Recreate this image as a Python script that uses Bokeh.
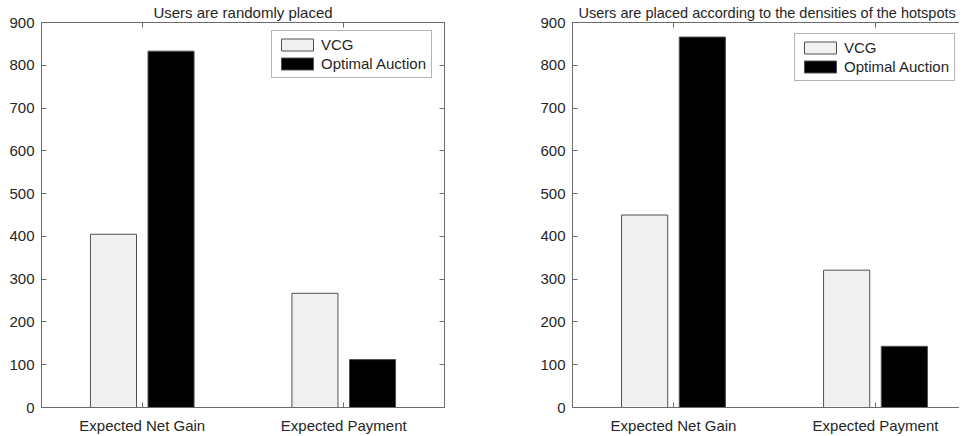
from bokeh.plotting import figure
from bokeh.models import (ColumnDataSource, LinearAxis, FixedTicker, Range1d,
                          Legend, LegendItem, Title)
from bokeh.layouts import row
from bokeh.embed import file_html
from bokeh.resources import INLINE

categories = ["Expected Net Gain", "Expected Payment"]
series_names = ["VCG", "Optimal Auction"]
titles = ["Users are randomly placed",
          "Users are placed according to the densities of the hotspots"]
vcg_random = [405, 267]
opt_random = [833, 112]
vcg_hotspot = [450, 321]
opt_hotspot = [866, 143]
y_ticks = [0, 100, 200, 300, 400, 500, 600, 700, 800, 900]

FONT = "Liberation Sans"
FS = "15px"
TXT = "#262626"
LINE = "#6a6a6a"
colors = ["#f0f0f0", "#000000"]
offsets = [-1 / 7, 1 / 7]
bar_w = 0.8 / 3.5
FH = 385


def make(title, vcg, opt, left_border, frame_w, x_end, show_right, legend_loc,
         title_fs, title_align, title_offset):
    p = figure(output_backend="svg", toolbar_location=None,
               frame_width=frame_w, frame_height=FH,
               x_range=Range1d(0.5, x_end), y_range=Range1d(0, 900),
               min_border_left=left_border, min_border_right=0,
               min_border_top=22, min_border_bottom=27,
               x_axis_location=None, y_axis_location=None)
    p.title = Title(text=title, text_font=FONT, text_font_size=title_fs,
                    text_color=TXT, text_font_style="normal", align=title_align,
                    standoff=3, offset=title_offset)
    p.grid.visible = False
    p.outline_line_color = None
    p.background_fill_color = "white"
    p.border_fill_color = "white"

    xs = list(range(1, len(categories) + 1))
    items = []
    for k, vals in enumerate([vcg, opt]):
        src = ColumnDataSource(dict(x=[x + offsets[k] for x in xs], top=vals))
        r = p.vbar(x="x", top="top", bottom=0, width=bar_w, source=src,
                   fill_color=colors[k], line_color="#505050", line_width=1)
        items.append(LegendItem(label=series_names[k], renderers=[r]))

    def style(ax, labels=True):
        ax.axis_line_color = LINE
        ax.major_tick_line_color = LINE
        ax.minor_tick_line_color = None
        ax.major_tick_in = 5
        ax.major_tick_out = 0
        ax.major_label_text_font = FONT
        ax.major_label_text_font_size = FS if labels else "1px"
        ax.major_label_text_color = TXT if labels else None
        ax.major_label_standoff = 7 if labels else 0

    yl = LinearAxis(ticker=FixedTicker(ticks=y_ticks))
    style(yl)
    p.add_layout(yl, "left")
    xb = LinearAxis(ticker=FixedTicker(ticks=xs),
                    major_label_overrides={x: c for x, c in zip(xs, categories)})
    style(xb)
    xb.major_label_standoff = 9
    p.add_layout(xb, "below")
    xt = LinearAxis(ticker=FixedTicker(ticks=xs))
    style(xt, labels=False)
    p.add_layout(xt, "above")
    if show_right:
        yr = LinearAxis(ticker=FixedTicker(ticks=y_ticks))
        style(yr, labels=False)
        p.add_layout(yr, "right")

    leg = Legend(items=items, location=legend_loc,
                 label_text_font=FONT, label_text_font_size=FS,
                 label_text_color=TXT, glyph_width=40, glyph_height=15,
                 label_standoff=4, spacing=2, padding=5, margin=0,
                 label_height=15,
                 border_line_color=LINE, border_line_width=1,
                 background_fill_color="white", background_fill_alpha=1)
    p.add_layout(leg, "center")
    return p


p1 = make(titles[0], vcg_random, opt_random, 41, 403, 2.5, True, (230, 329),
          FS, "center", 0)
p2 = make(titles[1], vcg_hotspot, opt_hotspot, 92, 387, 0.5 + 387 / 202, False, (222, 326),
          "14.5px", "left", 6)
p1.min_border_right = 36

layout = row(p1, p2)
open("out.html", "w").write(file_html(layout, INLINE))
